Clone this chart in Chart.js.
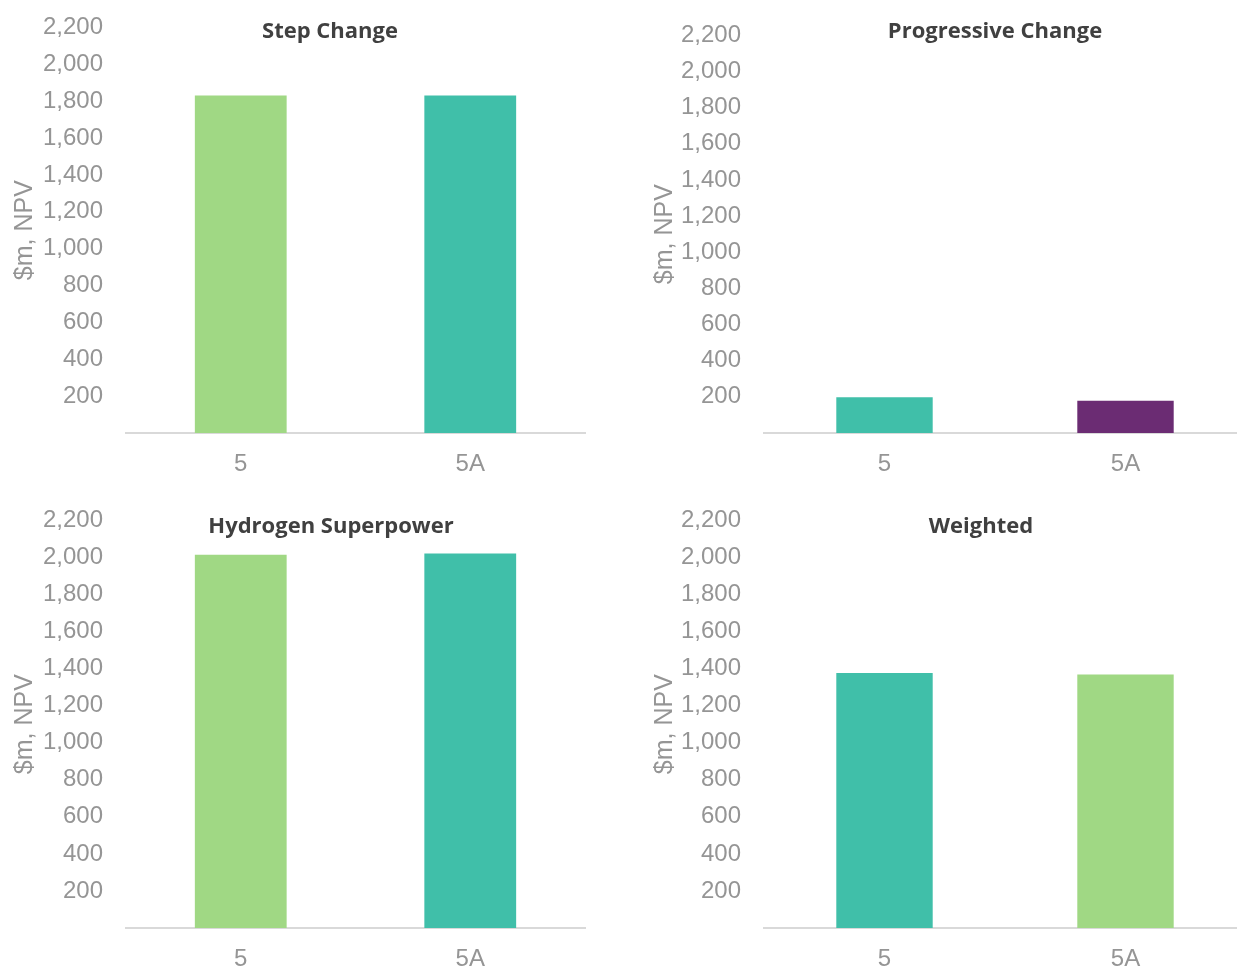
<!DOCTYPE html>
<html>
<head>
<meta charset="utf-8">
<script src="https://cdn.jsdelivr.net/npm/chart.js@4.4.1/dist/chart.umd.min.js"></script>
<style>
    html, body { margin: 0; padding: 0; background: #fff; overflow: hidden; }
    body { width: 1237px; height: 969px; position: relative; }
    canvas { position: absolute; }
</style>
</head>
<body>
<canvas id="c1" width="600" height="490" style="left:0;top:-10px"></canvas>
<canvas id="c2" width="606" height="482" style="left:640px;top:-2px"></canvas>
<canvas id="c3" width="600" height="497" style="left:0;top:483px"></canvas>
<canvas id="c4" width="606" height="497" style="left:640px;top:483px"></canvas>
<script>
// options (categories)
const categories = ['5', '5A'];

// $m, NPV per scenario
const stepChange = [1830, 1830];
const progressiveChange = [198, 178];
const hydrogenSuperpower = [2015, 2022];
const weighted = [1377, 1368];

const panelTitles = ['Step Change', 'Progressive Change', 'Hydrogen Superpower', 'Weighted'];
const yAxisLabel = '$m, NPV';
const yMin = 0;
const yMax = 2200;
const yStep = 200;

const GREEN = '#a0d884';
const TEAL = '#40bfa9';
const PURPLE = '#6b2c73';
const AXIS_GREY = '#959595';
const FONT = '"Liberation Sans", Arial, sans-serif';

// draws the panel title inside the plot, like the original
const panelTitle = {
    id: 'panelTitle',
    afterDraw(chart, args, opts) {
        const ctx = chart.ctx;
        ctx.save();
        ctx.font = 'bold 22px "Open Sans", sans-serif';
        ctx.fillStyle = '#404040';
        ctx.textAlign = 'center';
        ctx.textBaseline = 'middle';
        ctx.fillText(opts.text, opts.x, opts.y);
        ctx.restore();
    }
};

function makeChart(id, values, colors, title, box) {
    const ctx = document.getElementById(id).getContext('2d');
    return new Chart(ctx, {
        type: 'bar',
        data: {
            labels: categories,
            datasets: [{
                data: values,
                backgroundColor: colors,
                borderWidth: 0,
                categoryPercentage: 1,
                barPercentage: 0.4
            }]
        },
        options: {
            responsive: false,
            animation: false,
            devicePixelRatio: 1,
            layout: { padding: { top: 0, right: box.right, left: 0, bottom: 0 } },
            plugins: {
                legend: { display: false },
                tooltip: { enabled: false },
                panelTitle: { text: title, x: box.tx, y: box.ty }
            },
            scales: {
                x: {
                    grid: { display: false, drawTicks: false },
                    border: { display: true, color: '#d9d9d9', width: 2 },
                    ticks: {
                        padding: 17,
                        color: AXIS_GREY,
                        font: { family: FONT, size: 24 }
                    },
                    afterFit(scale) { scale.height = box.xh; }
                },
                y: {
                    min: yMin,
                    max: yMax,
                    grid: { display: false, drawTicks: false },
                    border: { display: false },
                    ticks: {
                        stepSize: yStep,
                        padding: 23,
                        color: AXIS_GREY,
                        font: { family: FONT, size: 24 },
                        callback: (v) => v === 0 ? '' : v.toLocaleString('en-US')
                    },
                    title: {
                        display: true,
                        text: yAxisLabel,
                        color: AXIS_GREY,
                        padding: { top: 10, bottom: 0 },
                        font: { family: FONT, size: 25 }
                    },
                    afterFit(scale) { scale.width = box.yw; }
                }
            }
        },
        plugins: [panelTitle]
    });
}

makeChart('c1', stepChange, [GREEN, TEAL], panelTitles[0],
    { right: 15, yw: 126, xh: 47, tx: 330, ty: 42 });
makeChart('c2', progressiveChange, [TEAL, PURPLE], panelTitles[1],
    { right: 0, yw: 124, xh: 47, tx: 355, ty: 34 });
makeChart('c3', hydrogenSuperpower, [GREEN, TEAL], panelTitles[2],
    { right: 15, yw: 126, xh: 52, tx: 331, ty: 44 });
makeChart('c4', weighted, [TEAL, GREEN], panelTitles[3],
    { right: 0, yw: 124, xh: 52, tx: 341, ty: 44 });
</script>
</body>
</html>
